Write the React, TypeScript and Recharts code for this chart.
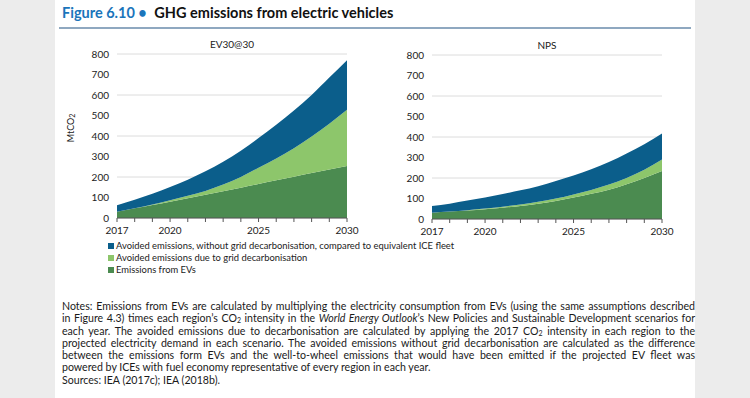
import React from "react";
import { AreaChart, Area, XAxis, YAxis, CartesianGrid } from "recharts";

const years = [2017, 2018, 2019, 2020, 2021, 2022, 2023, 2024, 2025, 2026, 2027, 2028, 2029, 2030];
const labelYears = [2017, 2020, 2025, 2030];
const yTicks = [0, 100, 200, 300, 400, 500, 600, 700, 800];

// EV30@30 scenario (MtCO2)
const evEmissions30 = [30, 47, 63, 79, 96, 113, 131, 148, 166, 184, 201, 219, 237, 254];
const gridDecarb30 = [0, 1, 3, 8, 12, 19, 32, 52, 79, 106, 139, 178, 223, 274];
const avoidedNoGrid30 = [32, 41, 52, 64, 79, 96, 111, 128, 145, 165, 185, 203, 225, 242];

// NPS scenario (MtCO2)
const evEmissionsNps = [31, 36, 41, 47, 55, 64, 75, 88, 105, 123, 143, 170, 200, 234];
const gridDecarbNps = [0, 1, 2, 4, 5, 7, 9, 12, 15, 19, 25, 30, 40, 56];
const avoidedNoGridNps = [33, 38, 47, 54, 62, 69, 76, 85, 92, 101, 110, 120, 125, 127];

const seriesNames = [
  "Avoided emissions, without grid decarbonisation, compared to equivalent ICE fleet",
  "Avoided emissions due to grid decarbonisation",
  "Emissions from EVs",
];
const colors = ["#0b5e8b", "#8dc66b", "#4b8b50"];

const FONT = "Lato, 'Liberation Sans', sans-serif";

function buildRows(ev: number[], grid: number[], avoided: number[]) {
  return years.map((y, i) => ({ year: y, ev: ev[i], grid: grid[i], avoided: avoided[i] }));
}

function Panel({ data, left, top, title }: { data: any[]; left: number; top: number; title: string }) {
  return (
    <div style={{ position: "absolute", left, top }}>
      <div
        style={{
          position: "absolute",
          left: 57,
          width: 230,
          top: 3,
          textAlign: "center",
          fontSize: 10,
          color: "#222",
          fontFamily: FONT,
        }}
      >
        {title}
      </div>
      <AreaChart width={300} height={210} data={data} margin={{ top: 19, right: 13, left: 0, bottom: 0 }}>
        <CartesianGrid vertical={false} stroke="#dcdcdc" />
        <XAxis
          dataKey="year"
          type="number"
          domain={[2017, 2030]}
          ticks={years}
          interval={0}
          height={27}
          tickSize={4}
          tickMargin={5}
          stroke="#555"
          tick={{ fontSize: 10, fill: "#222", fontFamily: FONT }}
          tickFormatter={(v: number) => (labelYears.includes(v) ? String(v) : "")}
        />
        <YAxis
          domain={[0, 800]}
          ticks={yTicks}
          width={57}
          axisLine={false}
          tickLine={false}
          tick={{ fontSize: 10, fill: "#222", fontFamily: FONT }}
        />
        <Area dataKey="ev" stackId="a" type="monotone" stroke="none" fill={colors[2]} fillOpacity={1} isAnimationActive={false} />
        <Area dataKey="grid" stackId="a" type="monotone" stroke="none" fill={colors[1]} fillOpacity={1} isAnimationActive={false} />
        <Area dataKey="avoided" stackId="a" type="monotone" stroke="none" fill={colors[0]} fillOpacity={1} isAnimationActive={false} />
      </AreaChart>
    </div>
  );
}

export default function App() {
  const data30 = buildRows(evEmissions30, gridDecarb30, avoidedNoGrid30);
  const dataNps = buildRows(evEmissionsNps, gridDecarbNps, avoidedNoGridNps);
  const noteStyle: React.CSSProperties = { textAlign: "justify", textAlignLast: "justify", whiteSpace: "nowrap", height: 12.3 };
  const sub = <sub style={{ fontSize: 7, verticalAlign: "-1px" }}>2</sub>;
  return (
    <div style={{ position: "relative", width: 750, height: 398, background: "#ececec", fontFamily: FONT, overflow: "hidden" }}>
      <style>{"body{margin:0}"}</style>
      <div style={{ position: "absolute", left: 55, top: 0, width: 640, height: 398, background: "#fff" }} />
      <div style={{ position: "absolute", left: 62, top: 4, fontSize: 14.5, fontWeight: 700, whiteSpace: "nowrap" }}>
        <span style={{ color: "#1b75bb" }}>Figure 6.10 • </span>
        <span style={{ color: "#111", marginLeft: 4 }}>GHG emissions from electric vehicles</span>
      </div>
      <div style={{ position: "absolute", left: 59, top: 27, width: 632, height: 2, background: "#8fa8c0" }} />

      <div
        style={{
          position: "absolute",
          left: 70,
          top: 128,
          transform: "translate(-50%, -50%) rotate(-90deg)",
          fontSize: 9,
          color: "#222",
          whiteSpace: "nowrap",
        }}
      >
        MtCO{sub}
      </div>

      <Panel data={data30} left={60} top={35} title="EV30@30" />
      <Panel data={dataNps} left={375} top={36} title="NPS" />

      <div style={{ position: "absolute", left: 108, top: 240, fontSize: 9.4, color: "#222", lineHeight: "12px" }}>
        {seriesNames.map((n, i) => (
          <div key={n} style={{ display: "flex", alignItems: "center", whiteSpace: "nowrap" }}>
            <span style={{ width: 6, height: 6, background: colors[i], marginRight: 2, display: "inline-block" }} />
            {n}
          </div>
        ))}
      </div>

      <div style={{ position: "absolute", left: 62, top: 300, width: 633, fontSize: 10.6, color: "#1a1a1a", lineHeight: "12.3px" }}>
        <div style={noteStyle}>
          Notes: Emissions from EVs are calculated by multiplying the electricity consumption from EVs (using the same assumptions described
        </div>
        <div style={noteStyle}>
          in Figure 4.3) times each region’s CO{sub} intensity in the <i>World Energy Outlook</i>’s New Policies and Sustainable Development scenarios for
        </div>
        <div style={noteStyle}>
          each year. The avoided emissions due to decarbonisation are calculated by applying the 2017 CO{sub} intensity in each region to the
        </div>
        <div style={noteStyle}>
          projected electricity demand in each scenario. The avoided emissions without grid decarbonisation are calculated as the difference
        </div>
        <div style={noteStyle}>
          between the emissions form EVs and the well-to-wheel emissions that would have been emitted if the projected EV fleet was
        </div>
        <div style={{ ...noteStyle, textAlignLast: "left" }}>
          powered by ICEs with fuel economy representative of every region in each year.
        </div>
        <div style={{ ...noteStyle, textAlignLast: "left" }}>Sources: IEA (2017c); IEA (2018b).</div>
      </div>
    </div>
  );
}
